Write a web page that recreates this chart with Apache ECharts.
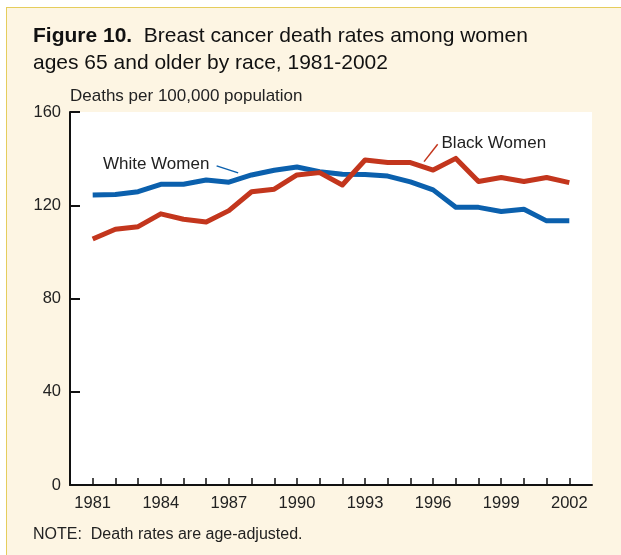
<!DOCTYPE html>
<html>
<head>
<meta charset="utf-8">
<script src="https://cdn.jsdelivr.net/npm/echarts@6/dist/echarts.min.js"></script>
<style>
  html, body { margin: 0; padding: 0; background: #fff; }
  .frame {
    position: absolute; left: 6px; top: 7px;
    width: 615px; height: 548px;
    background: #fdf5e3;
    border-left: 1px solid #e5cd5c;
    border-top: 1px solid #e5cd5c;
  }
  #chart { position: absolute; left: 0; top: 0; width: 621px; height: 555px; }
</style>
</head>
<body>
<div class="frame"></div>
<div id="chart"></div>
<script>
const years = [1981, 1982, 1983, 1984, 1985, 1986, 1987, 1988, 1989, 1990, 1991,
  1992, 1993, 1994, 1995, 1996, 1997, 1998, 1999, 2000, 2001, 2002]
const labeledYears = [1981, 1984, 1987, 1990, 1993, 1996, 1999, 2002]
const yTicks = [0, 40, 80, 120, 160]

const whiteWomen = [124.4, 124.6, 125.8, 129, 129, 130.8, 129.9, 133, 135, 136.4, 134.4,
  133.3, 133.2, 132.5, 130, 126.6, 119.1, 119.1, 117.3, 118.3, 113.3, 113.3]
const blackWomen = [105.5, 109.7, 110.8, 116.3, 114, 112.8, 117.7, 125.8, 126.9, 133, 134,
  128.7, 139.4, 138.3, 138.3, 135.1, 140.1, 130.2, 131.9, 130.2, 131.9, 129.7]

const blue = '#0b60ad'
const red = '#c3361d'
const font = '"Liberation Sans", Arial, sans-serif'

const chart = echarts.init(document.getElementById('chart'))

chart.setOption({
  animation: false,
  title: {
    text: '{b|Figure 10.}  Breast cancer death rates among women\nages 65 and older by race, 1981-2002',
    left: 33,
    top: 23,
    padding: 0,
    textStyle: {
      fontFamily: font, fontSize: 21, fontWeight: 'normal', color: '#111', lineHeight: 27,
      rich: { b: { fontFamily: font, fontSize: 21, fontWeight: 'bold', color: '#111', lineHeight: 27 } },
    },
  },
  grid: { left: 70, right: 29, top: 112, bottom: 70, show: true, backgroundColor: '#fff', borderWidth: 0 },
  xAxis: {
    type: 'value',
    min: 1980,
    max: 2003,
    interval: 1,
    splitLine: { show: false },
    axisLine: { lineStyle: { color: '#111', width: 2 } },
    axisTick: { inside: true, length: 7, customValues: years, lineStyle: { color: '#111', width: 1.5 } },
    axisLabel: {
      customValues: labeledYears, formatter: v => String(v),
      color: '#222', fontFamily: font, fontSize: 16.5, margin: 10,
    },
  },
  yAxis: {
    type: 'value',
    min: 0,
    max: 160,
    interval: 40,
    name: 'Deaths per 100,000 population',
    nameLocation: 'end',
    nameGap: 16,
    nameTextStyle: { align: 'left', verticalAlign: 'middle', color: '#222', fontFamily: font, fontSize: 17 },
    splitLine: { show: false },
    axisLine: { show: true, lineStyle: { color: '#111', width: 2 } },
    axisTick: { show: true, inside: true, length: 10, customValues: yTicks, lineStyle: { color: '#111', width: 2 } },
    axisLabel: { color: '#222', fontFamily: font, fontSize: 16.5, margin: 9 },
  },
  series: [
    {
      name: 'White Women',
      type: 'line',
      data: years.map((y, i) => [y, whiteWomen[i]]),
      showSymbol: false,
      lineStyle: { color: blue, width: 5, join: 'round' },
      itemStyle: { color: blue },
    },
    {
      name: 'Black Women',
      type: 'line',
      data: years.map((y, i) => [y, blackWomen[i]]),
      showSymbol: false,
      lineStyle: { color: red, width: 5, join: 'round' },
      itemStyle: { color: red },
    },
  ],
})

// annotation anchors in data space
const px = p => chart.convertToPixel({ gridIndex: 0 }, p)
const whiteText = px([1981.45, 137.7])
const whiteLead = [px([1986.46, 136.9]), px([1987.41, 133.9])]
const blackText = px([1996.37, 146.6])
const blackLead = [px([1996.2, 146.2]), px([1995.6, 138.7])]

chart.setOption({
  graphic: [
    {
      type: 'text', x: whiteText[0], y: whiteText[1],
      style: { text: 'White Women', font: '17px ' + font, fill: '#222', verticalAlign: 'middle' },
    },
    {
      type: 'line',
      shape: { x1: whiteLead[0][0], y1: whiteLead[0][1], x2: whiteLead[1][0], y2: whiteLead[1][1] },
      style: { stroke: blue, lineWidth: 1.5 },
    },
    {
      type: 'text', x: blackText[0], y: blackText[1],
      style: { text: 'Black Women', font: '17px ' + font, fill: '#222', verticalAlign: 'middle' },
    },
    {
      type: 'line',
      shape: { x1: blackLead[0][0], y1: blackLead[0][1], x2: blackLead[1][0], y2: blackLead[1][1] },
      style: { stroke: red, lineWidth: 1.5 },
    },
    {
      type: 'text', x: 33, y: 535,
      style: { text: 'NOTE:  Death rates are age-adjusted.', font: '16px ' + font, fill: '#222', verticalAlign: 'middle' },
    },
  ],
})
</script>
</body>
</html>
